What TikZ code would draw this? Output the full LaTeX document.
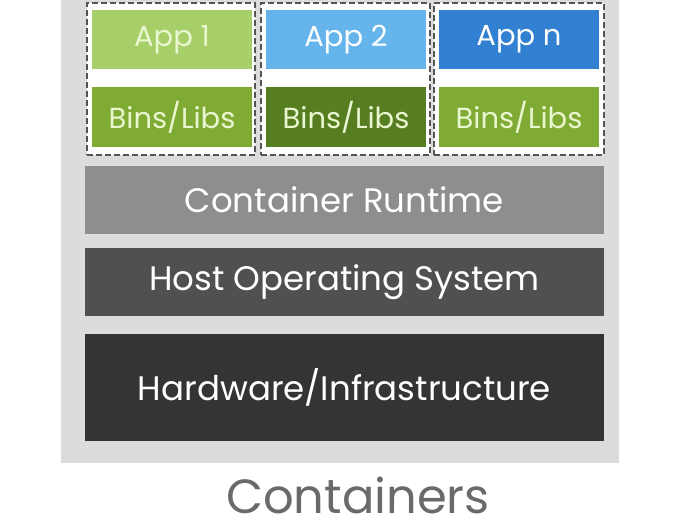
\documentclass[tikz,border=0pt]{standalone}
\usepackage{fontspec}
\setmainfont{Poppins}
\definecolor{bggray}{HTML}{DCDCDC}
\definecolor{appone}{HTML}{A6CF6A}
\definecolor{binsone}{HTML}{7FAB35}
\definecolor{apptwo}{HTML}{65B4EC}
\definecolor{binstwo}{HTML}{567E21}
\definecolor{appn}{HTML}{3180D2}
\definecolor{runtimec}{HTML}{8E8E8E}
\definecolor{hostc}{HTML}{505050}
\definecolor{hwc}{HTML}{343436}
\definecolor{lighttext}{HTML}{EAF6CF}
\definecolor{titlec}{HTML}{6A6A6A}
\definecolor{dashc}{HTML}{555555}
\tikzset{
  blk/.style={inner sep=0pt, outer sep=0pt, draw=none},
  smalltxt/.style={font=\fontsize{29}{32}\selectfont},
  layertxt/.style={font=\fontsize{34}{38}\selectfont, text=white},
  dashbox/.style={blk, fill=white, draw=dashc, line width=1.6pt, dash pattern=on 6pt off 3pt},
}
\newcommand\rectnode[7]{%
  \node[blk, #6, minimum width={(#4-#2)*1pt}, minimum height={(#5-#3)*1pt}]
    (#1) at ({(#2+#4)/2},{(#3+#5)/2}) {#7};}
\begin{document}
\begin{tikzpicture}[x=1pt,y=-1pt]
\useasboundingbox (0,0) rectangle (680,530);
\fill[white] (0,0) rectangle (680,530);
\rectnode{bg}{61}{0}{619}{463}{fill=bggray}{}
% dashed containers
\rectnode{c1}{87}{3}{255}{155}{dashbox}{}
\rectnode{c2}{261}{3}{430}{155}{dashbox}{}
\rectnode{c3}{434}{3}{604}{155}{dashbox}{}
% apps
\rectnode{a1}{92}{10}{252}{69}{fill=appone, smalltxt, text=lighttext}{App 1}
\rectnode{b1}{92}{87}{252}{147}{fill=binsone, smalltxt, text=lighttext}{Bins/Libs}
\rectnode{a2}{266}{10}{426}{69}{fill=apptwo, smalltxt, text=white}{App 2}
\rectnode{b2}{266}{87}{426}{147}{fill=binstwo, smalltxt, text=lighttext}{Bins/Libs}
\rectnode{a3}{439}{10}{599}{69}{fill=appn, smalltxt, text=white}{App n}
\rectnode{b3}{439}{87}{599}{147}{fill=binsone, smalltxt, text=lighttext}{Bins/Libs}
% layers
\rectnode{rt}{85}{166}{604}{234}{fill=runtimec, layertxt}{Container Runtime}
\rectnode{os}{85}{248}{604}{316}{fill=hostc, layertxt}{Host Operating System}
\rectnode{hw}{85}{334}{604}{441}{fill=hwc, layertxt}{Hardware/Infrastructure}
\node[blk, anchor=base, font=\fontsize{48}{54}\selectfont, text=titlec] (title) at (358,513) {Containers};
\end{tikzpicture}
\end{document}
